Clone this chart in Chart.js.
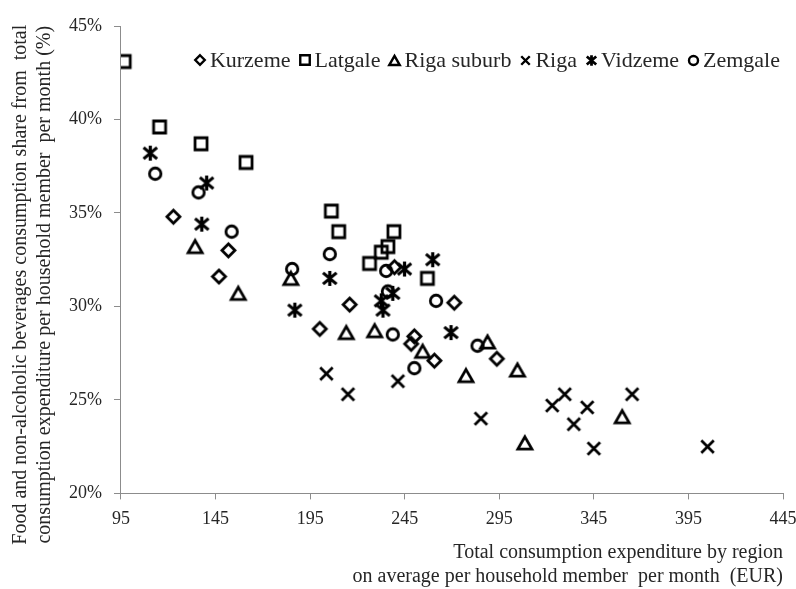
<!DOCTYPE html>
<html>
<head>
<meta charset="utf-8">
<script src="https://cdn.jsdelivr.net/npm/chart.js@4"></script>
<style>
  html, body { margin: 0; padding: 0; background: #fff; }
</style>
</head>
<body>
<canvas id="scatter" width="796" height="589"></canvas>
<script>
// Regions and their points (x = EUR per member per month, y = food share %)
const regions = ['Kurzeme', 'Latgale', 'Riga suburb', 'Riga', 'Vidzeme', 'Zemgale'];

const kurzemeX = [122.7, 151.8, 146.8, 200.1, 215.9, 239.6, 271.2, 250.1, 248.4, 260.7, 293.7];
const kurzemeY = [34.8, 33.0, 31.6, 28.8, 30.1, 32.1, 30.2, 28.4, 28.0, 27.1, 27.2];

const latgaleX = [96.7, 115.4, 137.3, 161.1, 206.2, 210.1, 239.3, 236.1, 232.6, 226.4, 257.0];
const latgaleY = [43.1, 39.6, 38.7, 37.7, 35.1, 34.0, 34.0, 33.2, 32.9, 32.3, 31.5];

const rigaSuburbX = [134.2, 157.0, 184.8, 214.1, 229.1, 254.5, 277.4, 288.8, 304.6, 308.5, 360.0];
const rigaSuburbY = [33.2, 30.7, 31.5, 28.6, 28.7, 27.6, 26.3, 28.1, 26.6, 22.7, 24.1];

const rigaX = [203.6, 215.0, 241.4, 285.3, 323.0, 329.6, 341.5, 334.4, 345.0, 365.2, 405.1];
const rigaY = [26.4, 25.3, 26.0, 24.0, 24.7, 25.3, 24.6, 23.7, 22.4, 25.3, 22.5];

const vidzemeX = [110.5, 140.3, 137.7, 186.9, 205.4, 259.8, 244.9, 238.7, 232.6, 233.5, 269.5];
const vidzemeY = [38.2, 36.6, 34.4, 29.8, 31.5, 32.5, 32.0, 30.7, 30.3, 29.8, 28.6];

const zemgaleX = [113.1, 136.0, 153.5, 185.5, 205.4, 235.2, 236.1, 261.6, 238.7, 250.1, 283.5];
const zemgaleY = [37.1, 36.1, 34.0, 32.0, 32.8, 31.9, 30.8, 30.3, 28.5, 26.7, 27.9];

const xTicks = { min: 95, max: 445, step: 50 };
const yTicks = { min: 20, max: 45, step: 5 };

const serif = "'Liberation Serif', 'Times New Roman', serif";
const textColor = '#262626';
const axisGray = '#8c8c8c';

// hollow black markers drawn on small canvases
function makeMarker(shape, size, lw) {
    const pad = Math.ceil(lw) + 1;
    const s = Math.ceil(size) + pad * 2;
    const cv = document.createElement('canvas');
    cv.width = s;
    cv.height = s;
    const g = cv.getContext('2d');
    g.strokeStyle = '#000';
    g.lineWidth = lw;
    const c = s / 2, h = size / 2;
    g.beginPath();
    if (shape === 'diamond') {
        g.moveTo(c, c - h); g.lineTo(c + h, c); g.lineTo(c, c + h); g.lineTo(c - h, c); g.closePath();
    } else if (shape === 'square') {
        g.rect(c - h, c - h, size, size);
    } else if (shape === 'triangle') {
        const th = size * 0.87;
        g.moveTo(c, c - th / 2); g.lineTo(c + h, c + th / 2); g.lineTo(c - h, c + th / 2); g.closePath();
    } else if (shape === 'cross') {
        g.moveTo(c - h, c - h); g.lineTo(c + h, c + h);
        g.moveTo(c + h, c - h); g.lineTo(c - h, c + h);
    } else if (shape === 'asterisk') {
        g.lineWidth = lw * 1.15;
        g.moveTo(c, c - h); g.lineTo(c, c + h);
        g.moveTo(c - h * 0.9, c - h * 0.75); g.lineTo(c + h * 0.9, c + h * 0.75);
        g.moveTo(c + h * 0.9, c - h * 0.75); g.lineTo(c - h * 0.9, c + h * 0.75);
    } else {
        g.arc(c, c, h, 0, Math.PI * 2);
    }
    g.stroke();
    return cv;
}

const shapes = ['diamond', 'square', 'triangle', 'cross', 'asterisk', 'circle'];
const pointSizes = [13, 12, 14, 12.5, 15, 11.5];
const legendSizes = [9.5, 9.5, 10.5, 8.5, 10.5, 9];
const pointIcons = shapes.map((s, i) => makeMarker(s, pointSizes[i], 2.8));
const legendIcons = shapes.map((s, i) => makeMarker(s, legendSizes[i], 2.4));

const seriesX = [kurzemeX, latgaleX, rigaSuburbX, rigaX, vidzemeX, zemgaleX];
const seriesY = [kurzemeY, latgaleY, rigaSuburbY, rigaY, vidzemeY, zemgaleY];

const datasets = regions.map((name, i) => ({
    label: name,
    data: seriesX[i].map((x, j) => ({ x: x, y: seriesY[i][j] })),
    pointStyle: pointIcons[i],
    pointRadius: 7,
    borderColor: '#000',
    backgroundColor: 'rgba(0,0,0,0)',
    showLine: false
}));

// legend sits inside the plot, along its top right
const insideLegend = {
    id: 'insideLegend',
    afterDraw(chart) {
        const ctx = chart.ctx;
        const area = chart.chartArea;
        ctx.save();
        ctx.font = '22px ' + serif;
        ctx.fillStyle = textColor;
        ctx.textBaseline = 'middle';
        ctx.textAlign = 'left';
        const markW = 11, gapIn = 4, gapOut = 9;
        const items = regions.map((name, i) => ({ name, icon: legendIcons[i], w: ctx.measureText(name).width }));
        const total = items.reduce((s, it) => s + markW + gapIn + it.w, 0) + gapOut * (items.length - 1);
        let x = area.right - 3 - total;
        const y = area.top + 34;
        items.forEach(it => {
            ctx.drawImage(it.icon, Math.round(x + markW / 2 - it.icon.width / 2), Math.round(y - it.icon.height / 2));
            x += markW + gapIn;
            ctx.fillText(it.name, x, y + 1);
            x += it.w + gapOut;
        });
        ctx.restore();
    }
};

// trailing spaces push the rotated title a little below the plot centre, as in the source
const yTitle = [
    'Food and non-alcoholic beverages consumption share from  total          ',
    'consumption expenditure per household member  per month (%)          '
];
const xTitle = ['Total consumption expenditure by region', 'on average per household member  per month  (EUR)'];

new Chart(document.getElementById('scatter'), {
    type: 'scatter',
    data: { datasets: datasets },
    plugins: [insideLegend],
    options: {
        responsive: false,
        animation: false,
        layout: { padding: { top: 26, right: 0, bottom: 0, left: 0 } },
        plugins: {
            legend: { display: false },
            tooltip: { enabled: false }
        },
        scales: {
            x: {
                type: 'linear',
                min: xTicks.min,
                max: xTicks.max,
                // only half of the last label needs room on the right
                afterFit: scale => { scale.paddingRight = 13; },
                ticks: {
                    stepSize: xTicks.step,
                    color: textColor,
                    font: { family: serif, size: 18 },
                    padding: 9,
                    maxRotation: 0
                },
                grid: { drawOnChartArea: false, drawTicks: true, tickLength: 6, color: axisGray },
                border: { color: axisGray },
                title: {
                    display: true,
                    text: xTitle,
                    align: 'end',
                    color: textColor,
                    font: { family: serif, size: 20, lineHeight: 1.2 },
                    padding: { top: 2, bottom: 0 }
                }
            },
            y: {
                type: 'linear',
                min: yTicks.min,
                max: yTicks.max,
                ticks: {
                    stepSize: yTicks.step,
                    color: textColor,
                    font: { family: serif, size: 18 },
                    padding: 12,
                    callback: v => v + '%'
                },
                grid: { drawOnChartArea: false, drawTicks: true, tickLength: 7, color: axisGray },
                border: { color: axisGray },
                title: {
                    display: true,
                    text: yTitle,
                    color: textColor,
                    font: { family: serif, size: 20, lineHeight: 1.2 },
                    padding: { top: 9, bottom: 0 }
                }
            }
        }
    }
});
</script>
</body>
</html>
